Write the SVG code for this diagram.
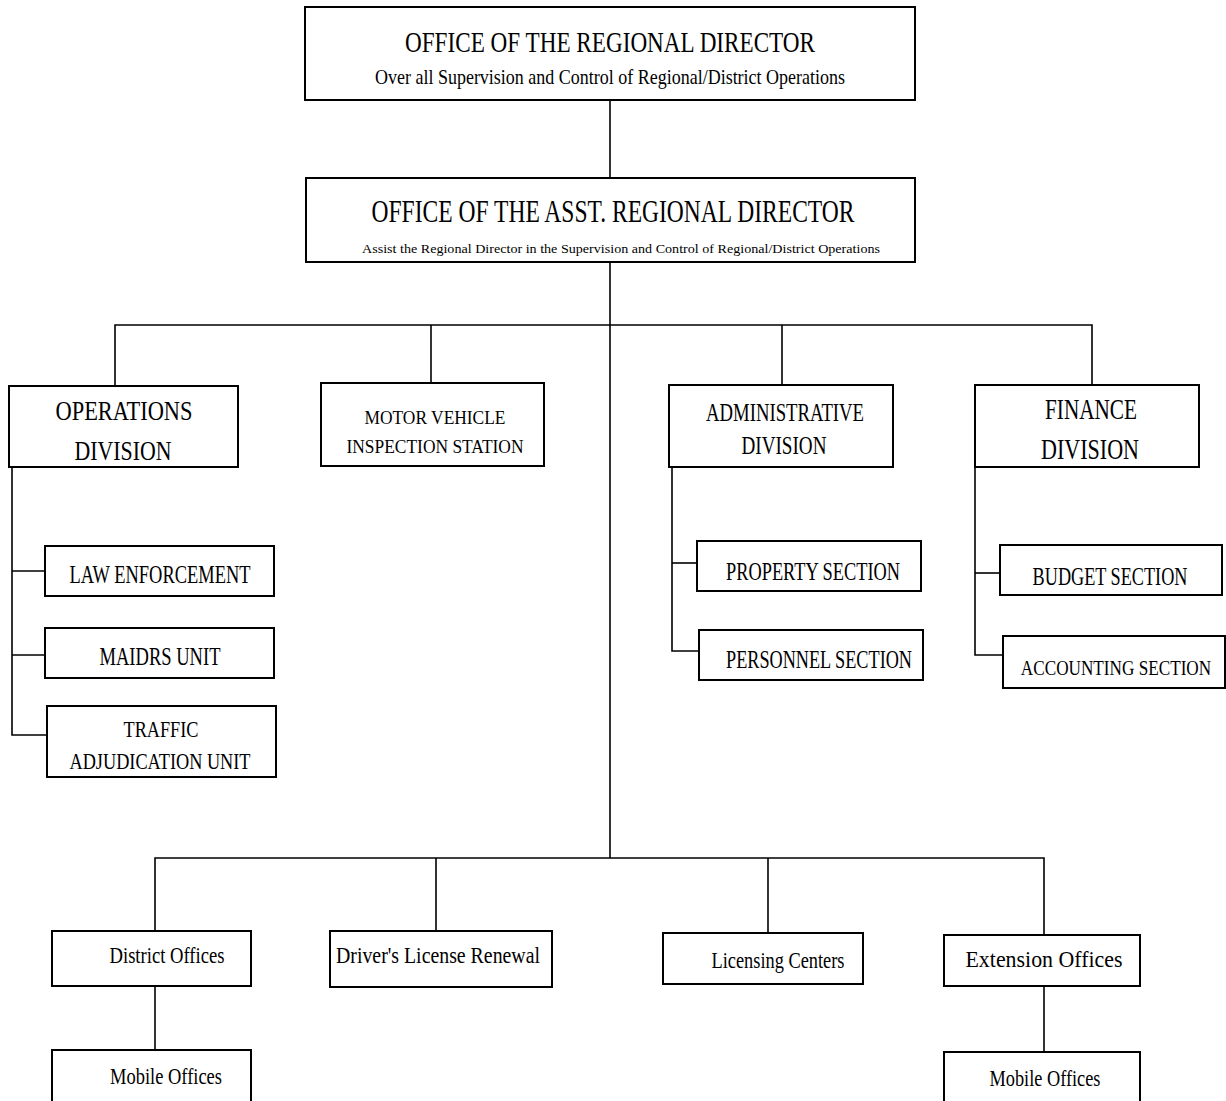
<svg xmlns="http://www.w3.org/2000/svg" width="1226" height="1101" viewBox="0 0 1226 1101">
  <style>
    .box { fill: #fff; stroke: #000; stroke-width: 2; }
    .ln { fill: none; stroke: #000; stroke-width: 1.6; }
    text { font-family: "Liberation Serif", "Times New Roman", serif; fill: #000; text-anchor: middle; }
  </style>
  <rect width="1226" height="1101" fill="#fff"/>

  <!-- connectors -->
  <g id="connectors" class="ln">
    <path d="M610 100 V178"/>
    <path d="M610 262 V858"/>
    <path d="M115 385 V325 H1092 V385"/>
    <path d="M431 325 V383"/>
    <path d="M782 325 V385"/>
    <!-- operations sub-units -->
    <path d="M12 467 V735 H47"/>
    <path d="M12 571 H45"/>
    <path d="M12 655 H45"/>
    <!-- administrative sections -->
    <path d="M672 467 V651 H699"/>
    <path d="M672 563 H697"/>
    <!-- finance sections -->
    <path d="M975 467 V655 H1003"/>
    <path d="M975 573 H1000"/>
    <!-- field offices -->
    <path d="M155 931 V858 H1044 V935"/>
    <path d="M436 858 V931"/>
    <path d="M768 858 V933"/>
    <path d="M155 986 V1050"/>
    <path d="M1044 986 V1052"/>
  </g>

  <g id="regional-director">
    <rect class="box" x="305" y="7" width="610" height="93"/>
    <text x="610" y="52" font-size="30" textLength="410" lengthAdjust="spacingAndGlyphs">OFFICE OF THE REGIONAL DIRECTOR</text>
    <text x="610" y="84" font-size="22" textLength="470" lengthAdjust="spacingAndGlyphs">Over all Supervision and Control of  Regional/District Operations</text>
  </g>

  <g id="asst-regional-director">
    <rect class="box" x="306" y="178" width="609" height="84"/>
    <text x="613" y="222" font-size="31" textLength="483" lengthAdjust="spacingAndGlyphs">OFFICE OF THE ASST. REGIONAL DIRECTOR</text>
    <text x="621" y="253" font-size="13" textLength="518" lengthAdjust="spacingAndGlyphs">Assist the Regional Director in the Supervision and Control of Regional/District Operations</text>
  </g>

  <g id="operations-division">
    <rect class="box" x="9" y="386" width="229" height="81"/>
    <text x="124" y="420" font-size="28" textLength="137" lengthAdjust="spacingAndGlyphs">OPERATIONS</text>
    <text x="123" y="460" font-size="28" textLength="97" lengthAdjust="spacingAndGlyphs">DIVISION</text>
  </g>

  <g id="motor-vehicle-inspection">
    <rect class="box" x="321" y="383" width="223" height="83"/>
    <text x="435" y="424" font-size="19" textLength="141" lengthAdjust="spacingAndGlyphs">MOTOR VEHICLE</text>
    <text x="435" y="453" font-size="19" textLength="177" lengthAdjust="spacingAndGlyphs">INSPECTION STATION</text>
  </g>

  <g id="administrative-division">
    <rect class="box" x="669" y="385" width="224" height="82"/>
    <text x="785" y="421" font-size="25" textLength="158" lengthAdjust="spacingAndGlyphs">ADMINISTRATIVE</text>
    <text x="784" y="454" font-size="25" textLength="85" lengthAdjust="spacingAndGlyphs">DIVISION</text>
  </g>

  <g id="finance-division">
    <rect class="box" x="975" y="385" width="224" height="82"/>
    <text x="1091" y="419" font-size="29" textLength="92" lengthAdjust="spacingAndGlyphs">FINANCE</text>
    <text x="1090" y="459" font-size="29" textLength="98" lengthAdjust="spacingAndGlyphs">DIVISION</text>
  </g>

  <g id="law-enforcement">
    <rect class="box" x="45" y="546" width="229" height="50"/>
    <text x="160" y="583" font-size="25" textLength="181" lengthAdjust="spacingAndGlyphs">LAW ENFORCEMENT</text>
  </g>

  <g id="maidrs-unit">
    <rect class="box" x="45" y="628" width="229" height="50"/>
    <text x="160" y="665" font-size="25" textLength="121" lengthAdjust="spacingAndGlyphs">MAIDRS UNIT</text>
  </g>

  <g id="traffic-adjudication">
    <rect class="box" x="47" y="706" width="229" height="71"/>
    <text x="161" y="737" font-size="24" textLength="75" lengthAdjust="spacingAndGlyphs">TRAFFIC</text>
    <text x="160" y="769" font-size="24" textLength="181" lengthAdjust="spacingAndGlyphs">ADJUDICATION UNIT</text>
  </g>

  <g id="property-section">
    <rect class="box" x="697" y="541" width="224" height="50"/>
    <text x="813" y="580" font-size="25" textLength="174" lengthAdjust="spacingAndGlyphs">PROPERTY SECTION</text>
  </g>

  <g id="personnel-section">
    <rect class="box" x="699" y="630" width="224" height="50"/>
    <text x="819" y="668" font-size="25" textLength="186" lengthAdjust="spacingAndGlyphs">PERSONNEL SECTION</text>
  </g>

  <g id="budget-section">
    <rect class="box" x="1000" y="545" width="222" height="50"/>
    <!-- horizontally condensed so the label stays inside the box near the page edge -->
    <text transform="translate(1110 585) scale(0.72 1)" font-size="25" textLength="215" lengthAdjust="spacingAndGlyphs">BUDGET SECTION</text>
  </g>

  <g id="accounting-section">
    <rect class="box" x="1003" y="636" width="222" height="52"/>
    <text transform="translate(1116 675) scale(0.78 1)" font-size="21" textLength="244" lengthAdjust="spacingAndGlyphs">ACCOUNTING SECTION</text>
  </g>

  <g id="district-offices">
    <rect class="box" x="52" y="931" width="199" height="55"/>
    <text x="167" y="963" font-size="24" textLength="115" lengthAdjust="spacingAndGlyphs">District Offices</text>
  </g>

  <g id="drivers-license-renewal">
    <rect class="box" x="330" y="931" width="222" height="56"/>
    <text x="438" y="963" font-size="24" textLength="204" lengthAdjust="spacingAndGlyphs">Driver's License Renewal</text>
  </g>

  <g id="licensing-centers">
    <rect class="box" x="663" y="933" width="200" height="51"/>
    <text x="778" y="968" font-size="24" textLength="133" lengthAdjust="spacingAndGlyphs">Licensing Centers</text>
  </g>

  <g id="extension-offices">
    <rect class="box" x="944" y="935" width="196" height="51"/>
    <text x="1044" y="967" font-size="24" textLength="157" lengthAdjust="spacingAndGlyphs">Extension Offices</text>
  </g>

  <g id="mobile-offices-district">
    <rect class="box" x="52" y="1050" width="199" height="60"/>
    <text x="166" y="1084" font-size="24" textLength="112" lengthAdjust="spacingAndGlyphs">Mobile Offices</text>
  </g>

  <g id="mobile-offices-extension">
    <rect class="box" x="944" y="1052" width="196" height="60"/>
    <text x="1045" y="1086" font-size="24" textLength="111" lengthAdjust="spacingAndGlyphs">Mobile Offices</text>
  </g>
</svg>
